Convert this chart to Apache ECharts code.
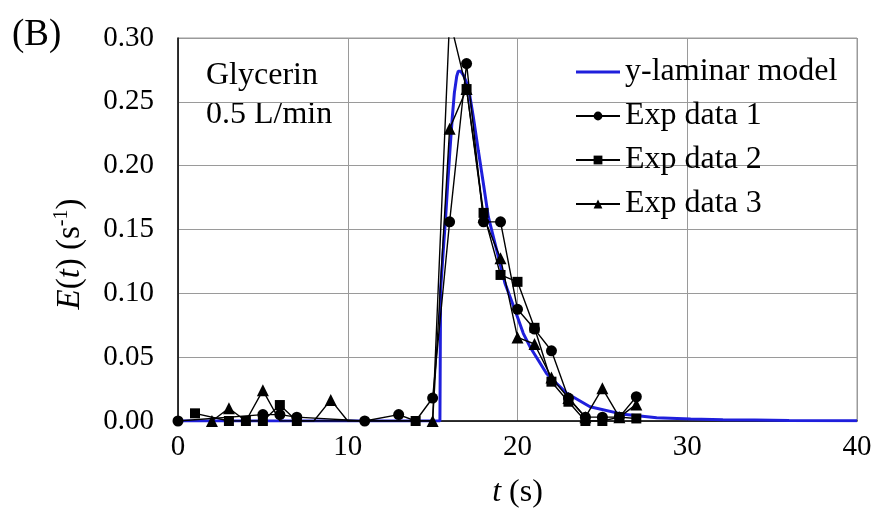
<!DOCTYPE html>
<html>
<head>
<meta charset="utf-8">
<script src="https://cdn.jsdelivr.net/npm/echarts@6/dist/echarts.min.js"></script>
<style>html,body{margin:0;padding:0;background:#fff}#c{width:876px;height:515px}</style>
</head>
<body>
<div id="c"></div>
<script>
// ---- data ----
const xTicks = [0, 10, 20, 30, 40];
const yTicks = [0, 0.05, 0.10, 0.15, 0.20, 0.25, 0.30];

const modelT = [0, 15.43, 15.47, 15.63, 15.77, 15.89, 16.02, 16.16, 16.28, 16.42, 16.51, 16.65, 16.81, 17.1, 17.4, 17.69, 17.99, 18.28, 18.77, 19.26, 19.85, 20.34, 20.74, 21.72, 22.9, 24.27, 26.23, 28.2, 30.2, 32.1, 34, 36, 40];
const modelE = [0, 0, 0.1026, 0.134, 0.160, 0.186, 0.212, 0.238, 0.257, 0.270, 0.274, 0.274, 0.271, 0.262, 0.238, 0.212, 0.186, 0.160, 0.134, 0.108, 0.087, 0.0687, 0.058, 0.037, 0.0217, 0.0112, 0.0052, 0.0026, 0.0016, 0.001, 0.0007, 0.0004, 0.0002];

const exp1T = [0, 5, 6, 7, 11, 13, 14, 15, 16, 17, 18, 19, 20, 21, 22, 23, 24, 25, 26, 27];
const exp1E = [0, 0.005, 0.005, 0.003, 0, 0.005, 0, 0.018, 0.156, 0.280, 0.156, 0.156, 0.0875, 0.072, 0.055, 0.018, 0.003, 0.003, 0.003, 0.019];
const exp1Hidden = [14];

const exp2T = [1, 3, 4, 5, 6, 7, 14, 15, 16, 17, 18, 19, 20, 21, 22, 23, 24, 25, 26, 27];
const exp2E = [0.006, 0, 0, 0, 0.0125, 0, 0, 0, 0.315, 0.26, 0.163, 0.1144, 0.109, 0.073, 0.0308, 0.0151, 0, 0, 0.003, 0.002];
const exp2Hidden = [15];

const exp3T = [2, 3, 4, 5, 6, 7, 8, 9, 10, 15, 16, 17, 18, 19, 20, 21, 22, 23, 24, 25, 26, 27];
const exp3E = [0, 0.01, 0, 0.024, 0, 0, 0, 0.0165, 0, 0, 0.229, 0.26, 0.16, 0.1274, 0.0655, 0.0603, 0.034, 0.018, 0.003, 0.0256, 0.003, 0.013];
const exp3Hidden = [4, 6, 7, 8, 10];

const seriesNames = ['y-laminar model', 'Exp data 1', 'Exp data 2', 'Exp data 3'];

// ---- build ----
const FONT = '"Liberation Serif", "Times New Roman", serif';
function pairs(ts, es, hidden) {
  return ts.map((t, i) => {
    const item = { value: [t, es[i]] };
    if (hidden && hidden.indexOf(t) >= 0) item.symbol = 'none';
    return item;
  });
}
function expSeries(name, ts, es, hidden, symbol, size) {
  return {
    name: name, type: 'line', data: pairs(ts, es, hidden),
    symbol: symbol, symbolSize: size, showAllSymbol: true,
    lineStyle: { color: '#000', width: 1.4 },
    itemStyle: { color: '#000' },
    clip: true, z: 3
  };
}

const chart = echarts.init(document.getElementById('c'), null, { renderer: 'canvas' });
chart.setOption({
  animation: false,
  backgroundColor: '#fff',
  grid: { left: 178, right: 19, top: 38, bottom: 94, show: true, borderColor: '#9a9a9a', borderWidth: 1 },
  xAxis: {
    type: 'value', min: xTicks[0], max: xTicks[xTicks.length - 1], interval: 10,
    axisLine: { show: true, lineStyle: { color: '#000', width: 1.5 } },
    axisTick: { show: false },
    splitLine: { show: true, lineStyle: { color: '#9a9a9a', width: 1 } },
    axisLabel: { color: '#000', fontFamily: FONT, fontSize: 29, margin: 12 },
    name: '{i|t}{n| (s)}', nameLocation: 'middle', nameGap: 56,
    nameTextStyle: { rich: {
      i: { fontFamily: FONT, fontSize: 32, fontStyle: 'italic', color: '#000' },
      n: { fontFamily: FONT, fontSize: 32, color: '#000' } } }
  },
  yAxis: {
    type: 'value', min: yTicks[0], max: yTicks[yTicks.length - 1], interval: 0.05,
    axisLine: { show: true, lineStyle: { color: '#000', width: 1.5 } },
    axisTick: { show: false },
    splitLine: { show: true, lineStyle: { color: '#9a9a9a', width: 1 } },
    axisLabel: { color: '#000', fontFamily: FONT, fontSize: 29, margin: 24, formatter: v => v.toFixed(2) }
  },
  legend: {
    orient: 'vertical', left: 570, top: 51, itemWidth: 44, itemHeight: 11, itemGap: 12,
    textStyle: { fontFamily: FONT, fontSize: 32, color: '#000' },
    data: [
      { name: seriesNames[0], icon: 'path://M0,0 L43,0 L43,3 L0,3 Z' },
      seriesNames[1], seriesNames[2], seriesNames[3]
    ]
  },
  graphic: [
    { type: 'text', left: 12, top: 17, style: { text: '(B)', font: '37px ' + FONT, fill: '#000' } },
    { type: 'text', left: 206, top: 56, style: { text: 'Glycerin\n0.5 L/min', font: '32px ' + FONT, fill: '#000', lineHeight: 39 } },
    { type: 'text', x: 70, y: 254, rotation: Math.PI / 2,
      style: {
        text: '{i|E}{n|(}{i|t}{n|) (s}{sup|-1}{n|)}',
        align: 'center', verticalAlign: 'middle',
        rich: {
          i: { fontFamily: FONT, fontSize: 33, fontStyle: 'italic', fill: '#000', lineHeight: 36 },
          n: { fontFamily: FONT, fontSize: 33, fill: '#000', lineHeight: 36 },
          sup: { fontFamily: FONT, fontSize: 20, fill: '#000', verticalAlign: 'top', lineHeight: 36 }
        }
      } }
  ],
  series: [
    { name: seriesNames[0], type: 'line', data: modelT.map((t, i) => [t, modelE[i]]), symbol: 'none',
      lineStyle: { color: '#1f1fdc', width: 3 }, itemStyle: { color: '#1f1fdc' }, clip: true, z: 2 },
    expSeries(seriesNames[1], exp1T, exp1E, exp1Hidden, 'circle', 11),
    expSeries(seriesNames[2], exp2T, exp2E, exp2Hidden, 'rect', 10),
    expSeries(seriesNames[3], exp3T, exp3E, exp3Hidden, 'triangle', 12)
  ]
});
</script>
</body>
</html>
